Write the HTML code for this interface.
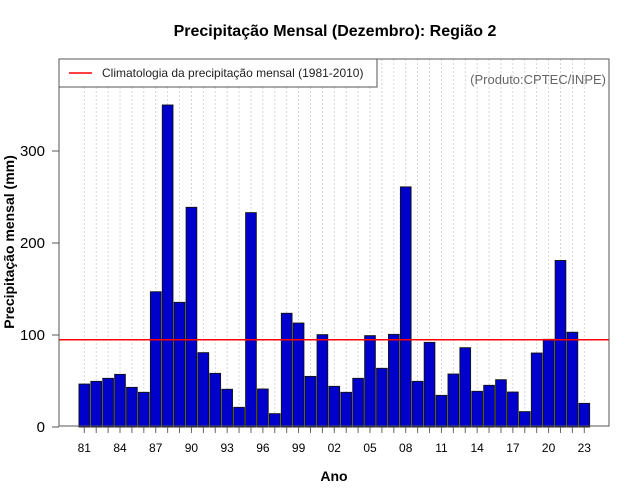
<!DOCTYPE html>
<html><head><meta charset="utf-8"><style>
body{margin:0;background:#fff}
svg{display:block;font-family:"Liberation Sans",sans-serif}
</style></head><body>
<svg id="chart" width="640" height="500">
<text x="335" y="36" text-anchor="middle" font-size="16" font-weight="bold">Precipitação Mensal (Dezembro): Região 2</text>
<g id="grid"></g>
<g id="bars"></g>
<line id="clim" stroke="#ff0000" stroke-width="1.5"></line>
<rect x="59" y="59" width="550" height="367" fill="none" stroke="#555" stroke-width="1"/>
<g>
<rect x="59" y="59" width="318" height="28" fill="#fff" stroke="#555" stroke-width="1"/>
<line x1="69" y1="73" x2="92" y2="73" stroke="#ff0000" stroke-width="1.5"/>
<text x="102" y="77" font-size="12" fill="#222">Climatologia da precipitação mensal (1981-2010)</text>
</g>
<text x="606" y="84" text-anchor="end" font-size="13" fill="#666">(Produto:CPTEC/INPE)</text>
<g id="yaxis"></g>
<g id="xaxis"></g>
<text transform="translate(14,242) rotate(-90)" text-anchor="middle" font-size="14" font-weight="bold">Precipitação mensal (mm)</text>
<text x="334" y="481" text-anchor="middle" font-size="14" font-weight="bold">Ano</text>
</svg>
<script>
const years = [];
for (let y = 1981; y <= 2023; y++) years.push(y);
const values = [46.7,49.6,52.9,57.2,43.1,37.7,147,350,135.5,238.8,80.8,58.3,41,21.4,233,41.3,14.5,123.6,113,55,100.4,44.2,37.7,52.9,99.3,63.8,100.7,261,49.6,92,34.4,57.6,86.2,38.8,45.3,51.4,38,16.7,80.4,95.3,181,103,25.7];
const climatology = 94.9;
const yTicks = [0,100,200,300];
const xLabelYears = [1981,1984,1987,1990,1993,1996,1999,2002,2005,2008,2011,2014,2017,2020,2023];

const NS = "http://www.w3.org/2000/svg";
const x0 = 84.3, step = (584.3 - 84.3) / 42;
const xScale = yr => x0 + (yr - 1981) * step;
const yScale = v => 427 - v * 0.92;
function mk(tag, attrs, parent) {
  const e = document.createElementNS(NS, tag);
  for (const k in attrs) e.setAttribute(k, attrs[k]);
  document.getElementById(parent).appendChild(e);
  return e;
}
years.forEach(yr => {
  const x = xScale(yr);
  const g = mk('line', {x1: x, x2: x, y1: (x < 377 ? 87 : 59), y2: 426, stroke: '#ccc', 'stroke-dasharray': '2,2', 'stroke-width': 0.8}, 'grid');
  
  
  const t = mk('line', {x1: x, x2: x, y1: 427, y2: 433, stroke: '#666'}, 'xaxis');
  
  
});
years.forEach((yr, i) => {
  const w = 10.7, x = xScale(yr) - w / 2, y = yScale(values[i]);
  const r = mk('rect', {x: x, y: y, width: w, height: 427 - y, fill: '#0000cd', stroke: '#111', 'stroke-width': 0.9}, 'bars');
  
  
});
const cl = document.getElementById('clim');
cl.setAttribute('x1', 59); cl.setAttribute('x2', 609);
cl.setAttribute('y1', yScale(climatology)); cl.setAttribute('y2', yScale(climatology));
yTicks.forEach(v => {
  const y = yScale(v);
  const t = mk('line', {x1: 52, x2: 59, y1: y, y2: y, stroke: '#555'}, 'yaxis');
  
  
  const l = mk('text', {x: 45, y: y + 5, 'text-anchor': 'end', 'font-size': 15}, 'yaxis');
  l.textContent = v;
  
  
});
xLabelYears.forEach(yr => {
  const l = mk('text', {x: xScale(yr), y: 452, 'text-anchor': 'middle', 'font-size': 12}, 'xaxis');
  l.textContent = String(yr % 100).padStart(2, '0');
  
  
});
</script>
</body></html>
